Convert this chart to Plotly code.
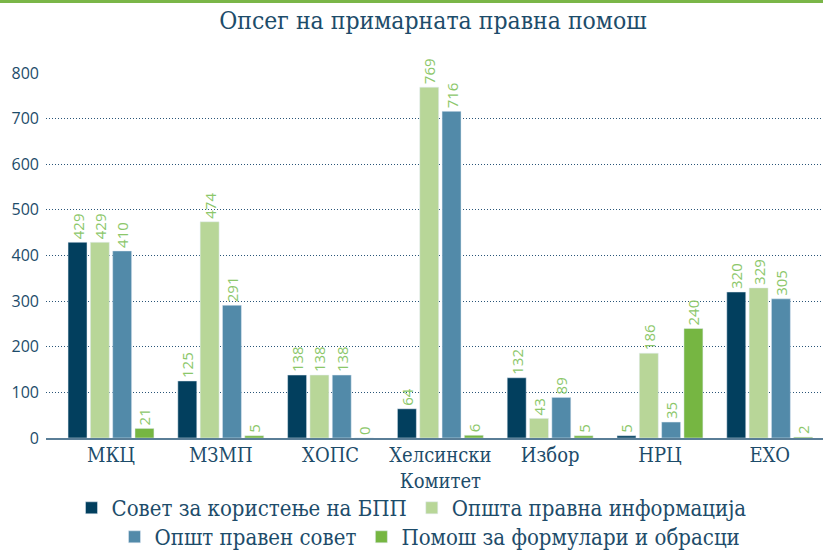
import plotly.graph_objects as go

categories = ["МКЦ", "МЗМП", "ХОПС", "Хелсински<br>Комитет", "Избор", "НРЦ", "ЕХО"]
series_names = ["Совет за користење на БПП", "Општа правна информација",
                "Општ правен совет", "Помош за формулари и обрасци"]
sovet_bpp = [429, 125, 138, 64, 132, 5, 320]
opsta_info = [429, 474, 138, 769, 43, 186, 329]
opst_sovet = [410, 291, 138, 716, 89, 35, 305]
formulari = [21, 5, 0, 6, 5, 240, 2]
y_ticks = [0, 100, 200, 300, 400, 500, 600, 700, 800]

colors = ["#023f5e", "#b8d698", "#528aa9", "#76b642"]
values = [sovet_bpp, opsta_info, opst_sovet, formulari]
legends = ["legend", "legend", "legend2", "legend2"]

SERIF = "DejaVu Serif Condensed, DejaVu Serif, Liberation Serif, serif"
SANS = "Open Sans, DejaVu Sans, sans-serif"
TXT = "#1d4c6a"

fig = go.Figure()
for name, vals, col, lg in zip(series_names, values, colors, legends):
    fig.add_trace(go.Bar(
        x=list(range(len(categories))), y=vals, name=name, marker_color=col,
        text=[str(v) for v in vals], textposition="outside", textangle=-90,
        constraintext="none",
        textfont=dict(family=SANS, size=15, color="#8cc76a"),
        cliponaxis=False, legend=lg,
    ))

fig.update_layout(
    width=823, height=553,
    margin=dict(l=46, r=0, t=73, b=115, autoexpand=False),
    paper_bgcolor="white", plot_bgcolor="white",
    barmode="group", bargap=0.187, bargroupgap=0.15,
    title=dict(text="Опсег на примарната правна помош", x=433 / 823, xref="container",
               xanchor="center", y=1 - 20 / 553, yref="container", yanchor="middle",
               font=dict(family=SERIF, size=24.5, color=TXT)),
    showlegend=True,
    legend=dict(orientation="h", x=0.5, xref="container", xanchor="center",
                y=1 - 508 / 553, yref="container", yanchor="middle",
                font=dict(family=SERIF, size=22, color=TXT), bgcolor="rgba(0,0,0,0)",
                traceorder="normal", itemwidth=30),
    legend2=dict(orientation="h", x=430 / 823, xref="container", xanchor="center",
                 y=1 - 537 / 553, yref="container", yanchor="middle",
                 font=dict(family=SERIF, size=22, color=TXT), bgcolor="rgba(0,0,0,0)",
                 traceorder="normal", itemwidth=30),
    shapes=[dict(type="rect", xref="paper", yref="paper", x0=-0.1, x1=1.1,
                 y0=1.2 - 3 / 365, y1=1.21, fillcolor="#7ab648", line_width=0)],
)

fig.update_xaxes(
    range=[-0.592, 6.485], tickmode="array", tickvals=list(range(len(categories))),
    ticktext=categories, tickangle=0, showgrid=False, showline=True, linecolor="#5a7e97",
    linewidth=2, ticks="", tickfont=dict(family=SERIF, size=20, color=TXT),
    ticklabelstandoff=-2,
)
fig.update_yaxes(
    range=[0, 800], tickvals=y_ticks, showgrid=True, gridcolor="#2a5578",
    gridwidth=1, griddash="1px,2px", zeroline=False, ticks="",
    tickfont=dict(family=SANS, size=16, color=TXT), ticklabelstandoff=6,
)

fig.write_html("out.html", config={"displayModeBar": False},
               post_script="document.body.style.margin='0';document.body.style.padding='0';")
